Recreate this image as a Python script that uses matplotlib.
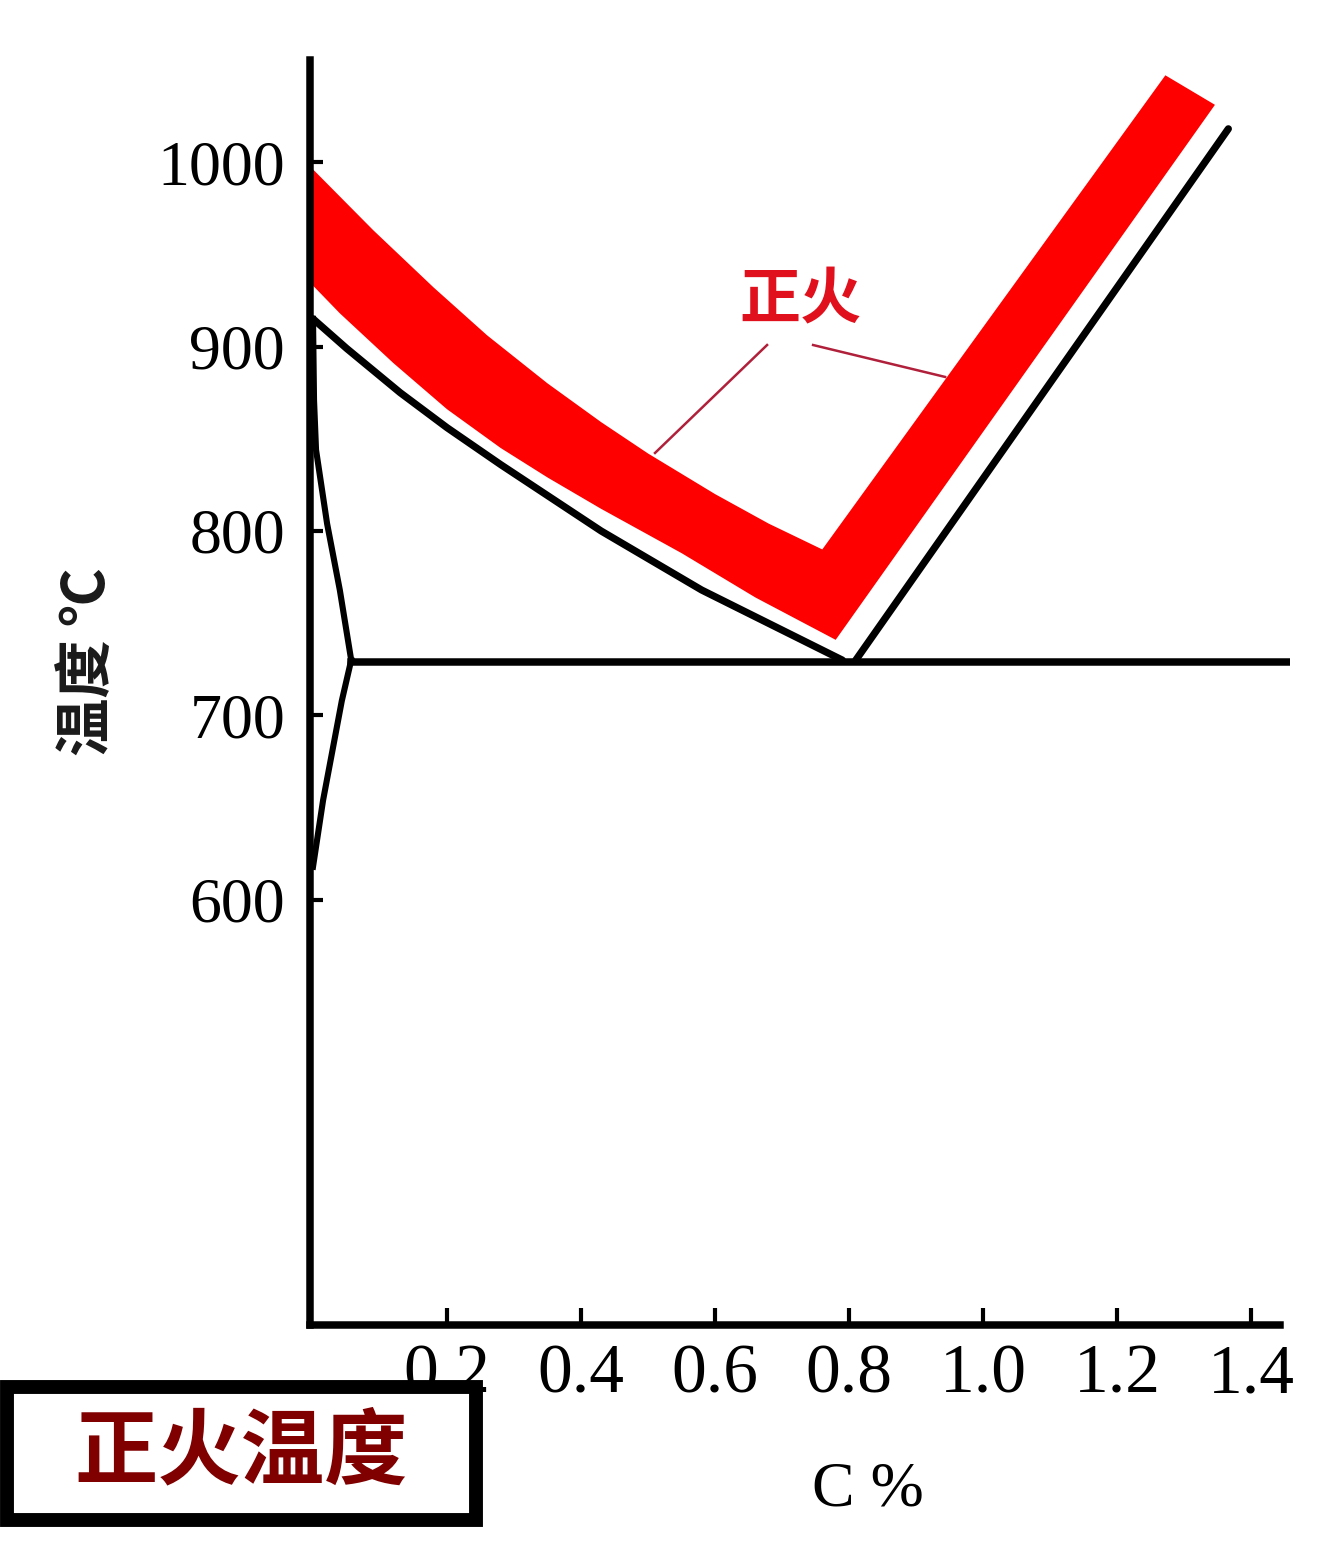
import matplotlib
matplotlib.use('Agg')
import matplotlib.pyplot as plt
from matplotlib.patches import Rectangle

plt.rcParams['font.family'] = ['Liberation Serif', 'DejaVu Serif']
cjk = ['Noto Sans CJK SC', 'DejaVu Sans']

# values (carbon %, temperature C)
a3_c = [0.0, 0.05, 0.13, 0.2, 0.28, 0.43, 0.58, 0.79]
a3_t = [915, 899, 875, 856, 836, 800, 768, 730]

acm_c = [0.81, 1.366]
acm_t = [730, 1018]

gp_c = [0.0, 0.0015, 0.0045, 0.021, 0.04, 0.057]
gp_t = [915, 871, 844, 804, 768, 730]

pq_c = [0.057, 0.043, 0.015, 0.0]
pq_t = [730, 708, 654, 618]

eutectoid_t = 729
eutectoid_c = [0.057, 1.455]

band_top_c = [0.0, 0.09, 0.18, 0.26, 0.35, 0.43, 0.50, 0.60, 0.68, 0.76, 1.272]
band_top_t = [996, 963, 932, 906, 880, 859, 842, 820, 804, 790, 1047]
band_bot_c = [0.0, 0.04, 0.12, 0.20, 0.28, 0.35, 0.43, 0.55, 0.66, 0.78, 1.346]
band_bot_t = [933, 918, 891, 866, 845, 829, 812, 788, 764, 741, 1031]

x_ticks = [0.2, 0.4, 0.6, 0.8, 1.0, 1.2, 1.4]
x_labels = ['0.2', '0.4', '0.6', '0.8', '1.0', '1.2', '1.4']
y_ticks = [600, 700, 800, 900, 1000]

W, H = 1343, 1567
fig = plt.figure(figsize=(W / 100, H / 100), dpi=100)
ax = fig.add_axes([310 / W, 1 - 1325 / H, 980 / W, 1265 / H])
ax.set_xlim(-0.0045, 1.458)
ax.set_ylim(369.6, 1055.3)

red = '#fe0000'
poly_c = band_top_c + band_bot_c[::-1]
poly_t = band_top_t + band_bot_t[::-1]
ax.fill(poly_c, poly_t, color=red, lw=0, zorder=1)

lw = 5.2
ax.plot(a3_c, a3_t, color='black', lw=lw, solid_capstyle='round', solid_joinstyle='round', zorder=3)
ax.plot(acm_c, acm_t, color='black', lw=lw, solid_capstyle='round', zorder=3)
ax.plot(gp_c, gp_t, color='black', lw=4.4, solid_joinstyle='round', zorder=3)
ax.plot(pq_c, pq_t, color='black', lw=4.4, solid_joinstyle='round', zorder=3)
ax.plot(eutectoid_c, [eutectoid_t, eutectoid_t], color='black', lw=5.4, zorder=3)

# label with leader lines
ax.text(0.727, 925, '正火', family=cjk, color='#e0101c', fontsize=44, fontweight='bold',
        ha='center', va='center')
ax.plot([0.6776, 0.5104], [900.8, 842.3], color='#b0203a', lw=1.8, zorder=4)
ax.plot([0.7463, 0.9433], [900.8, 883.5], color='#b0203a', lw=1.8, zorder=4)

for s in ['top', 'right']:
    ax.spines[s].set_visible(False)
for s in ['left', 'bottom']:
    ax.spines[s].set_linewidth(5.4)
ax.spines['bottom'].set_bounds(-0.0045, 1.443)

ax.set_xticks(x_ticks)
ax.set_xticklabels(x_labels)
ax.set_yticks(y_ticks)
ax.tick_params(axis='x', direction='in', length=12, width=3, pad=14, labelsize=50)
ax.tick_params(axis='y', direction='in', length=9, width=3, pad=18, labelsize=46)

fig.text(88 / W, 1 - 662 / H, '温度 ℃', family=cjk, fontsize=42, fontweight='bold',
         color='#1a1a1a', rotation=90, ha='center', va='center')
fig.text(868 / W, 1 - 1490 / H, 'C %', fontsize=46, ha='center', va='center')

# title box in the lower left corner
box = Rectangle((7 / W, 1 - 1520 / H), 469 / W, 133 / H, transform=fig.transFigure,
                facecolor='white', edgecolor='black', lw=10, zorder=5)
fig.patches.append(box)
fig.text(241 / W, 1 - 1453 / H, '正火温度', family=cjk, fontsize=60, fontweight='bold',
         color='#800000', ha='center', va='center', zorder=6)

fig.savefig('out.png', dpi=100)
